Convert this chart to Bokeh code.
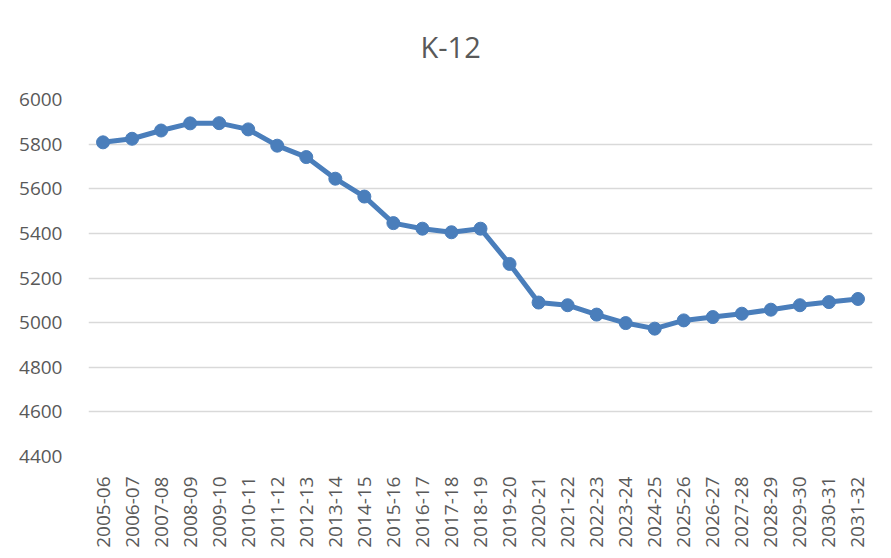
import math
from bokeh.plotting import figure
from bokeh.models import ColumnDataSource, Range1d, Title, FixedTicker
from bokeh.embed import file_html
from bokeh.resources import INLINE

years = ["2005-06", "2006-07", "2007-08", "2008-09", "2009-10", "2010-11", "2011-12",
         "2012-13", "2013-14", "2014-15", "2015-16", "2016-17", "2017-18", "2018-19",
         "2019-20", "2020-21", "2021-22", "2022-23", "2023-24", "2024-25", "2025-26",
         "2026-27", "2027-28", "2028-29", "2029-30", "2030-31", "2031-32"]
enrollment = [5808, 5824, 5861, 5893, 5894, 5866, 5793, 5742, 5645, 5565, 5446, 5421,
              5405, 5421, 5263, 5090, 5078, 5036, 4998, 4973, 5010, 5025, 5040, 5058,
              5078, 5092, 5106]
y_ticks = [4400, 4600, 4800, 5000, 5200, 5400, 5600, 5800, 6000]

src = ColumnDataSource(dict(x=years, y=enrollment))

FONT = "Open Sans"
GRAY = "#595959"
BLUE = "#4A7EBB"

p = figure(x_range=years, y_range=Range1d(4400, 6000), width=875, height=550,
           output_backend="svg", toolbar_location=None,
           min_border_left=88, min_border_right=3, min_border_top=99, min_border_bottom=86)

# main title
p.title.text = "K-12"
p.title.align = "left"
p.title.offset = 332
p.title.text_font = FONT
p.title.text_font_size = "29px"
p.title.text_color = GRAY
p.title.text_font_style = "normal"
p.title.standoff = 40

# blank spacer between title and plot area
p.add_layout(Title(text=" ", text_font_size="9px", standoff=2), "above")

p.line("x", "y", source=src, line_color=BLUE, line_width=5)
p.scatter("x", "y", source=src, size=13, fill_color=BLUE, line_color=BLUE)

p.outline_line_color = None
p.xgrid.grid_line_color = None
p.ygrid.grid_line_color = "#d9d9d9"
p.ygrid.grid_line_width = 1.5
p.yaxis.ticker = FixedTicker(ticks=y_ticks)

for ax in (p.xaxis[0], p.yaxis[0]):
    ax.axis_line_color = None
    ax.major_tick_line_color = None
    ax.minor_tick_line_color = None
    ax.major_label_text_font = FONT
    ax.major_label_text_font_size = "19px"
    ax.major_label_text_color = GRAY

p.yaxis.major_label_standoff = 20
p.xaxis.major_label_orientation = math.pi / 2
p.xaxis.major_label_standoff = 14

open("out.html", "w").write(file_html(p, INLINE))
